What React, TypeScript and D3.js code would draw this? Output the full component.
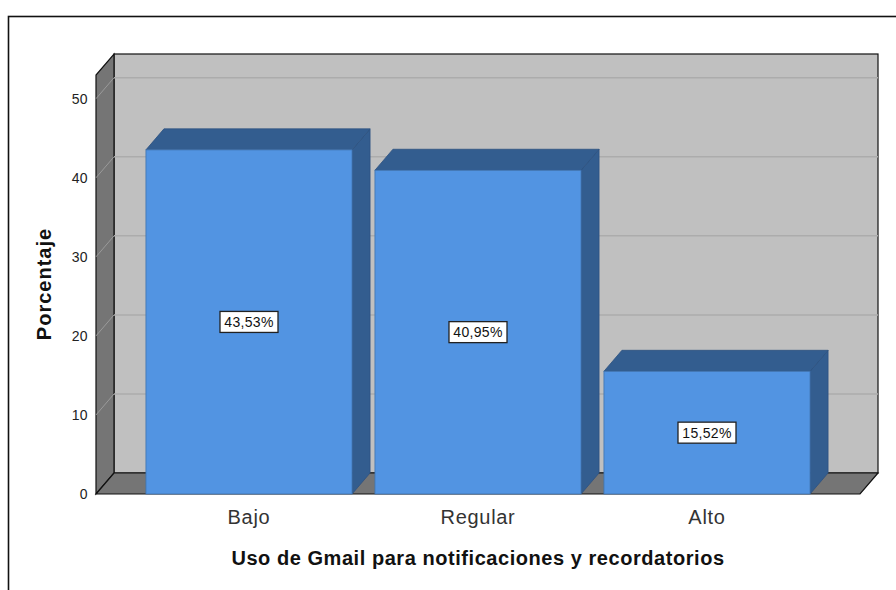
import React from 'react';
import * as d3 from 'd3';

const categories = ['Bajo', 'Regular', 'Alto'];
const values = [43.53, 40.95, 15.52];
const valueLabels = ['43,53%', '40,95%', '15,52%'];
const yTicks = [0, 10, 20, 30, 40, 50];

const width = 896;
const height = 590;
const dx = 18;
const dy = 21;
const font = 'Liberation Sans, Arial, sans-serif';

const renderChart = (svg: any) => {
  svg.selectAll('*').remove();

  const x = d3
    .scaleBand()
    .domain(categories)
    .range([134.5, 821.5])
    .paddingInner(0.1)
    .paddingOuter(0.05);
  const y = d3.scaleLinear().domain([0, 53]).range([494, 75]);

  const left = 96;
  const right = 860;
  const y0 = y(0);
  const yTop = y(53);

  // outer frame
  svg.append('rect')
    .attr('x', 8.5).attr('y', 16.5)
    .attr('width', width).attr('height', height)
    .attr('fill', 'white').attr('stroke', '#111').attr('stroke-width', 1.6);

  // back wall
  svg.append('rect')
    .attr('x', left + dx).attr('y', yTop - dy)
    .attr('width', right - left).attr('height', y0 - yTop)
    .attr('fill', '#c0c0c0').attr('stroke', '#111').attr('stroke-width', 1.2);

  // left wall
  svg.append('path')
    .attr('d', `M${left},${y0} L${left},${yTop} L${left + dx},${yTop - dy} L${left + dx},${y0 - dy} Z`)
    .attr('fill', '#757575').attr('stroke', '#111').attr('stroke-width', 1.2);

  // floor
  svg.append('path')
    .attr('d', `M${left},${y0} L${left + dx},${y0 - dy} L${right + dx},${y0 - dy} L${right},${y0} Z`)
    .attr('fill', '#757575').attr('stroke', '#111').attr('stroke-width', 1.2);

  // gridlines
  const grid = svg.append('g');
  yTicks.filter(t => t > 0).forEach(t => {
    grid.append('line')
      .attr('x1', left + dx).attr('x2', right + dx)
      .attr('y1', y(t) - dy).attr('y2', y(t) - dy)
      .attr('stroke', '#acacac').attr('stroke-width', 1.5);
    grid.append('line')
      .attr('x1', left).attr('x2', left + dx)
      .attr('y1', y(t)).attr('y2', y(t) - dy)
      .attr('stroke', '#9a9a9a').attr('stroke-width', 1);
  });

  // y tick labels
  svg.append('g')
    .selectAll('text')
    .data(yTicks)
    .join('text')
    .attr('x', 88)
    .attr('y', (d: number) => y(d))
    .attr('dy', '0.35em')
    .attr('text-anchor', 'end')
    .attr('font-family', font)
    .attr('font-size', 14)
    .attr('letter-spacing', 0.4)
    .attr('fill', '#222')
    .text((d: number) => d);

  // bars
  const bars = svg.append('g')
    .selectAll('g')
    .data(categories)
    .join('g');

  bars.each(function (this: any, d: string, i: number) {
    const g = d3.select(this);
    const bx = x(d) as number;
    const bw = x.bandwidth();
    const by = y(values[i]);
    // side
    g.append('path')
      .attr('d', `M${bx + bw},${y0} L${bx + bw},${by} L${bx + bw + dx},${by - dy} L${bx + bw + dx},${y0 - dy} Z`)
      .attr('fill', '#335d8f').attr('stroke', '#2d5280').attr('stroke-width', 0.8);
    // top
    g.append('path')
      .attr('d', `M${bx},${by} L${bx + dx},${by - dy} L${bx + bw + dx},${by - dy} L${bx + bw},${by} Z`)
      .attr('fill', '#335d8f').attr('stroke', '#2d5280').attr('stroke-width', 0.8);
    // front
    g.append('rect')
      .attr('x', bx).attr('y', by)
      .attr('width', bw).attr('height', y0 - by)
      .attr('fill', '#5294e2').attr('stroke', '#3f72ad').attr('stroke-width', 0.8);

    // value label
    const cx = bx + bw / 2;
    const cy = (by + y0) / 2;
    g.append('rect')
      .attr('x', cx - 29).attr('y', cy - 10.5)
      .attr('width', 58).attr('height', 21)
      .attr('fill', 'white').attr('stroke', '#222').attr('stroke-width', 1.3);
    g.append('text')
      .attr('x', cx).attr('y', cy)
      .attr('dy', '0.36em')
      .attr('text-anchor', 'middle')
      .attr('font-family', font)
      .attr('font-size', 14)
      .attr('letter-spacing', 0.3)
      .attr('fill', '#111')
      .text(valueLabels[i]);
  });

  // x category labels
  svg.append('g')
    .selectAll('text')
    .data(categories)
    .join('text')
    .attr('x', (d: string) => (x(d) as number) + x.bandwidth() / 2)
    .attr('y', 524)
    .attr('text-anchor', 'middle')
    .attr('font-family', font)
    .attr('font-size', 20)
    .attr('letter-spacing', 0.7)
    .attr('fill', '#333')
    .text((d: string) => d);

  // axis titles
  svg.append('text')
    .attr('x', 478).attr('y', 565)
    .attr('text-anchor', 'middle')
    .attr('font-family', font)
    .attr('font-size', 20)
    .attr('font-weight', 'bold')
    .attr('letter-spacing', 0.55)
    .attr('fill', '#111')
    .text('Uso de Gmail para notificaciones y recordatorios');

  svg.append('text')
    .attr('transform', `translate(51, 284) rotate(-90)`)
    .attr('text-anchor', 'middle')
    .attr('font-family', font)
    .attr('font-size', 20)
    .attr('font-weight', 'bold')
    .attr('letter-spacing', 1)
    .attr('fill', '#111')
    .text('Porcentaje');
};

const App: React.FC = () => {
  const ref = React.useRef<SVGSVGElement>(null);

  React.useEffect(() => {
    renderChart(d3.select(ref.current));
  }, []);

  return (
    <svg
      ref={ref}
      width={width}
      height={height}
      style={{ position: 'absolute', left: 0, top: 0, background: 'white' }}
    />
  );
};

export default App;
